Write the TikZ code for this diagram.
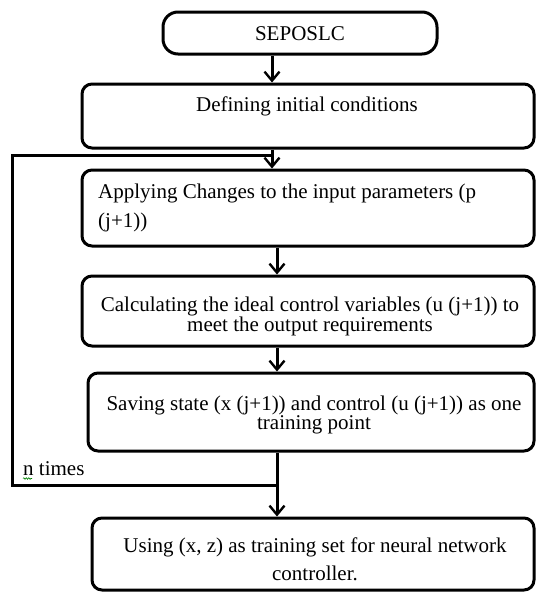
\documentclass[tikz,border=0pt]{standalone}
\usepackage{fontspec}
\setmainfont{Liberation Serif}
\usetikzlibrary{arrows.meta,decorations.pathmorphing}
\begin{document}
\begin{tikzpicture}[x=1pt,y=-1pt,
  box/.style={draw, line width=3pt, rounded corners=10pt, inner sep=0pt},
  txt/.style={font=\fontsize{21}{19}\selectfont, inner sep=0pt},
  conn/.style={line width=3pt, -{Straight Barb[length=9pt,width=15pt,line width=2.4pt]}},
  wire/.style={line width=3pt}]
\useasboundingbox[fill=white] (0,0) rectangle (537,592);
% boxes
\node[box, minimum width=274pt, minimum height=42pt, rounded corners=15pt] (S) at (300,33) {};
\node[box, minimum width=452pt, minimum height=64pt] (D) at (308,116) {};
\node[box, minimum width=452pt, minimum height=76pt] (A) at (308,208) {};
\node[box, minimum width=452pt, minimum height=70pt] (C) at (308,311) {};
\node[box, minimum width=446pt, minimum height=78pt] (V) at (311,412) {};
\node[box, minimum width=442pt, minimum height=72pt] (U) at (313,554) {};
% texts
\node[txt] (St) at (300,34) {SEPOSLC};
\node[txt] (Dt) at (307,106) {Defining initial conditions};
\node[txt, align=left, anchor=west] (At) at (98,208) {Applying Changes to the input parameters (p\\[9pt](j+1))};
\node[txt, align=center] (Ct) at (310,316) {Calculating the ideal control variables (u (j+1)) to\\meet the output requirements};
\node[txt, align=center] (Vt) at (314,415) {Saving state (x (j+1)) and control (u (j+1)) as one\\training point};
\node[txt, align=center] (Ut) at (315,559) {Using (x, z) as training set for neural network\\[8pt]controller.};
\node[txt, anchor=base west] (Nt) at (23,475) {n times};
\draw[green!50!black, line width=0.6pt, decorate, decoration={snake, amplitude=0.8pt, segment length=2.5pt}]
  ([yshift=-3.5pt]Nt.base west) -- ([yshift=-3.5pt, xshift=9pt]Nt.base west);
% helper coordinates
\coordinate (ax) at (272,0);
\coordinate (bx) at (277,0);
\coordinate (j1) at (277,485);
\coordinate (c1) at (12,485);
\coordinate (c2) at (12,155);
\coordinate (m1) at (272,155);
% connectors
\draw[conn] (S.south -| ax) -- (D.north -| ax);
\draw[conn] (D.south -| ax) -- (A.north -| ax);
\draw[conn] (A.south -| bx) -- (C.north -| bx);
\draw[conn] (C.south -| bx) -- (V.north -| bx);
\draw[conn] (V.south -| bx) -- (U.north -| bx);
\draw[wire, line join=miter] (j1) -- (c1) -- (c2) -- (m1);
\end{tikzpicture}
\end{document}
